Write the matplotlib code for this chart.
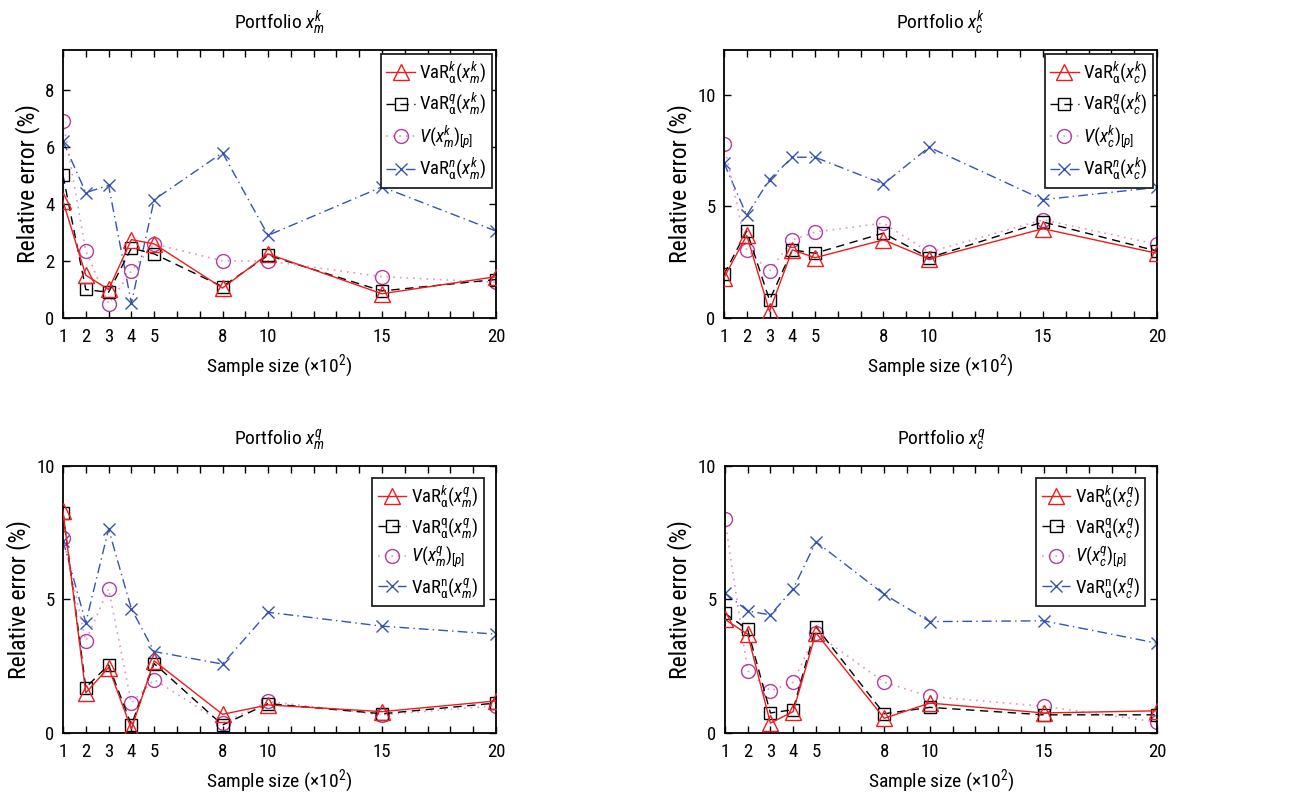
import matplotlib
matplotlib.use('Agg')
import matplotlib.pyplot as plt
from matplotlib import font_manager
from matplotlib.ticker import FixedLocator, NullFormatter, FixedFormatter

# fuente estrecha si existe (la figura original tiene letras angostas)
nombres = {f.name for f in font_manager.fontManager.ttflist}
fuente = 'Liberation Sans'
esc = 0.9
for cand in ['Liberation Sans Narrow', 'Arial Narrow', 'Roboto Condensed', 'Archivo Narrow', 'PT Sans Narrow']:
    if cand in nombres:
        fuente = cand
        esc = 1.0
        break
fs_title, fs_x, fs_y, fs_leg, fs_tick = 14 * esc, 14 * esc, 17 * esc, 13.5 * esc, 13.5 * esc

plt.rcParams['font.family'] = [fuente, 'DejaVu Sans']
plt.rcParams['mathtext.fontset'] = 'custom'
plt.rcParams['mathtext.rm'] = fuente
plt.rcParams['mathtext.it'] = fuente + ':italic'
plt.rcParams['mathtext.bf'] = fuente + ':bold'

# tamaños de muestra (x10^2)
sizes = [1, 2, 3, 4, 5, 8, 10, 15, 20]
tick_labels = ['1', '2', '3', '4', '5', '8', '10', '15', '20']

# Portfolio x_m^k
mk_vark = [4.1, 1.5, 1.0, 2.75, 2.6, 1.05, 2.25, 0.85, 1.45]
mk_varq = [5.0, 1.0, 0.9, 2.45, 2.25, 1.1, 2.2, 0.95, 1.35]
mk_v = [6.9, 2.35, 0.5, 1.65, 2.6, 2.0, 2.0, 1.45, 1.25]
mk_varn = [6.2, 4.4, 4.65, 0.52, 4.15, 5.8, 2.9, 4.6, 3.05]

# Portfolio x_c^k
ck_vark = [1.8, 3.7, 0.3, 3.05, 2.7, 3.5, 2.65, 4.0, 2.9]
ck_varq = [1.95, 3.9, 0.8, 3.05, 2.9, 3.8, 2.7, 4.3, 3.0]
ck_v = [7.8, 3.05, 2.1, 3.5, 3.85, 4.25, 2.95, 4.4, 3.3]
ck_varn = [6.95, 4.6, 6.2, 7.2, 7.2, 6.0, 7.65, 5.3, 5.85]

# Portfolio x_m^q
mq_vark = [8.3, 1.5, 2.45, 0.15, 2.7, 0.7, 1.05, 0.8, 1.2]
mq_varq = [8.25, 1.7, 2.55, 0.3, 2.6, 0.3, 1.1, 0.72, 1.12]
mq_v = [7.3, 3.45, 5.4, 1.12, 2.0, 0.37, 1.18, 0.68, 1.02]
mq_varn = [7.2, 4.13, 7.63, 4.65, 3.05, 2.58, 4.52, 4.0, 3.7]

# Portfolio x_c^q
cq_vark = [4.25, 3.7, 0.37, 0.8, 3.75, 0.55, 1.12, 0.75, 0.83]
cq_varq = [4.48, 3.88, 0.75, 0.87, 3.98, 0.72, 0.96, 0.68, 0.68]
cq_v = [8.0, 2.33, 1.58, 1.9, 3.73, 1.9, 1.37, 1.0, 0.41]
cq_varn = [5.25, 4.57, 4.42, 5.39, 7.16, 5.19, 4.17, 4.2, 3.36]

RED = '#ee1c1c'
MAG = '#b43c9c'
MAG_LINE = '#e890cc'
BLUE = '#3553b5'

paneles = [
    ([0.0485, 0.600, 0.3333, 0.337], 'Portfolio $x^k_m$', 'm', 'k', 'q', 'n',
     [mk_vark, mk_varq, mk_v, mk_varn], 9.4, [0, 2, 4, 6, 8], 0.2),
    ([0.5573, 0.600, 0.3333, 0.337], 'Portfolio $x^k_c$', 'c', 'k', 'q', 'n',
     [ck_vark, ck_varq, ck_v, ck_varn], 12.0, [0, 5, 10], 0.2),
    ([0.0485, 0.078, 0.3333, 0.336], 'Portfolio $x^q_m$', 'm', 'q', r'\mathrm{q}', r'\mathrm{n}',
     [mq_vark, mq_varq, mq_v, mq_varn], 10.0, [0, 5, 10], 0.65),
    ([0.5580, 0.078, 0.3330, 0.336], 'Portfolio $x^q_c$', 'c', 'q', r'\mathrm{q}', r'\mathrm{n}',
     [cq_vark, cq_varq, cq_v, cq_varn], 10.0, [0, 5, 10], 0.65),
]

fig = plt.figure(figsize=(12.99, 7.95), dpi=100)

for rect, titulo, sub, sup, qsup, nsup, series, ymax, yticks, pad in paneles:
    ax = fig.add_axes(rect)
    x = f'x^{{{sup}}}_{{{sub}}}'
    etiquetas = [
        rf'VaR$^{{k}}_{{\mathrm{{\alpha}}}}({x})$',
        rf'VaR$^{{{qsup}}}_{{\mathrm{{\alpha}}}}({x})$',
        rf'$V({x})_{{[p]}}$',
        rf'VaR$^{{{nsup}}}_{{\mathrm{{\alpha}}}}({x})$',
    ]
    ax.plot(sizes, series[0], color=RED, linestyle='-', linewidth=1.0,
            marker='^', markersize=11, markerfacecolor='none', markeredgecolor=RED,
            markeredgewidth=1.0, label=etiquetas[0], zorder=4)
    ax.plot(sizes, series[1], color='black', linestyle=(0, (6, 4)), linewidth=1.0,
            marker='s', markersize=8, markerfacecolor='none', markeredgecolor='black',
            markeredgewidth=1.0, label=etiquetas[1], zorder=3)
    ax.plot(sizes, series[2], color=MAG_LINE, linestyle=(0, (1, 3)), linewidth=1.2,
            marker='o', markersize=10, markerfacecolor='none', markeredgecolor=MAG,
            markeredgewidth=1.0, label=etiquetas[2], zorder=2)
    ax.plot(sizes, series[3], color=BLUE, linestyle=(0, (7, 3, 1, 3)), linewidth=1.0,
            marker='x', markersize=8, markeredgecolor=BLUE, markeredgewidth=1.0,
            label=etiquetas[3], zorder=1)

    ax.set_xlim(1, 20)
    ax.set_ylim(0, ymax)
    ax.xaxis.set_major_locator(FixedLocator(sizes))
    ax.xaxis.set_major_formatter(FixedFormatter(tick_labels))
    ax.xaxis.set_minor_locator(FixedLocator([v for v in range(1, 21) if v not in sizes]))
    ax.xaxis.set_minor_formatter(NullFormatter())
    ax.set_yticks(yticks)
    ax.tick_params(which='both', direction='in', top=True, right=True,
                   labelsize=fs_tick, width=1.0, color='black', length=5)
    ax.tick_params(axis='x', pad=7)
    ax.tick_params(axis='y', pad=6)
    for s in ax.spines.values():
        s.set_linewidth(1.3)

    ax.set_title(titulo, fontsize=fs_title, pad=15)
    ax.set_xlabel(r'Sample size (×10$^2$)', fontsize=fs_x, labelpad=5)
    ax.set_ylabel('Relative error (%)', fontsize=fs_y, labelpad=4)

    leg = ax.legend(loc='upper right', fontsize=fs_leg, handlelength=1.5,
                    handletextpad=0.25, labelspacing=0.3, borderpad=0.3,
                    borderaxespad=pad, fancybox=False, framealpha=1.0,
                    edgecolor='#222222')
    leg.get_frame().set_linewidth(1.3)

fig.savefig('out.png', dpi=100)
